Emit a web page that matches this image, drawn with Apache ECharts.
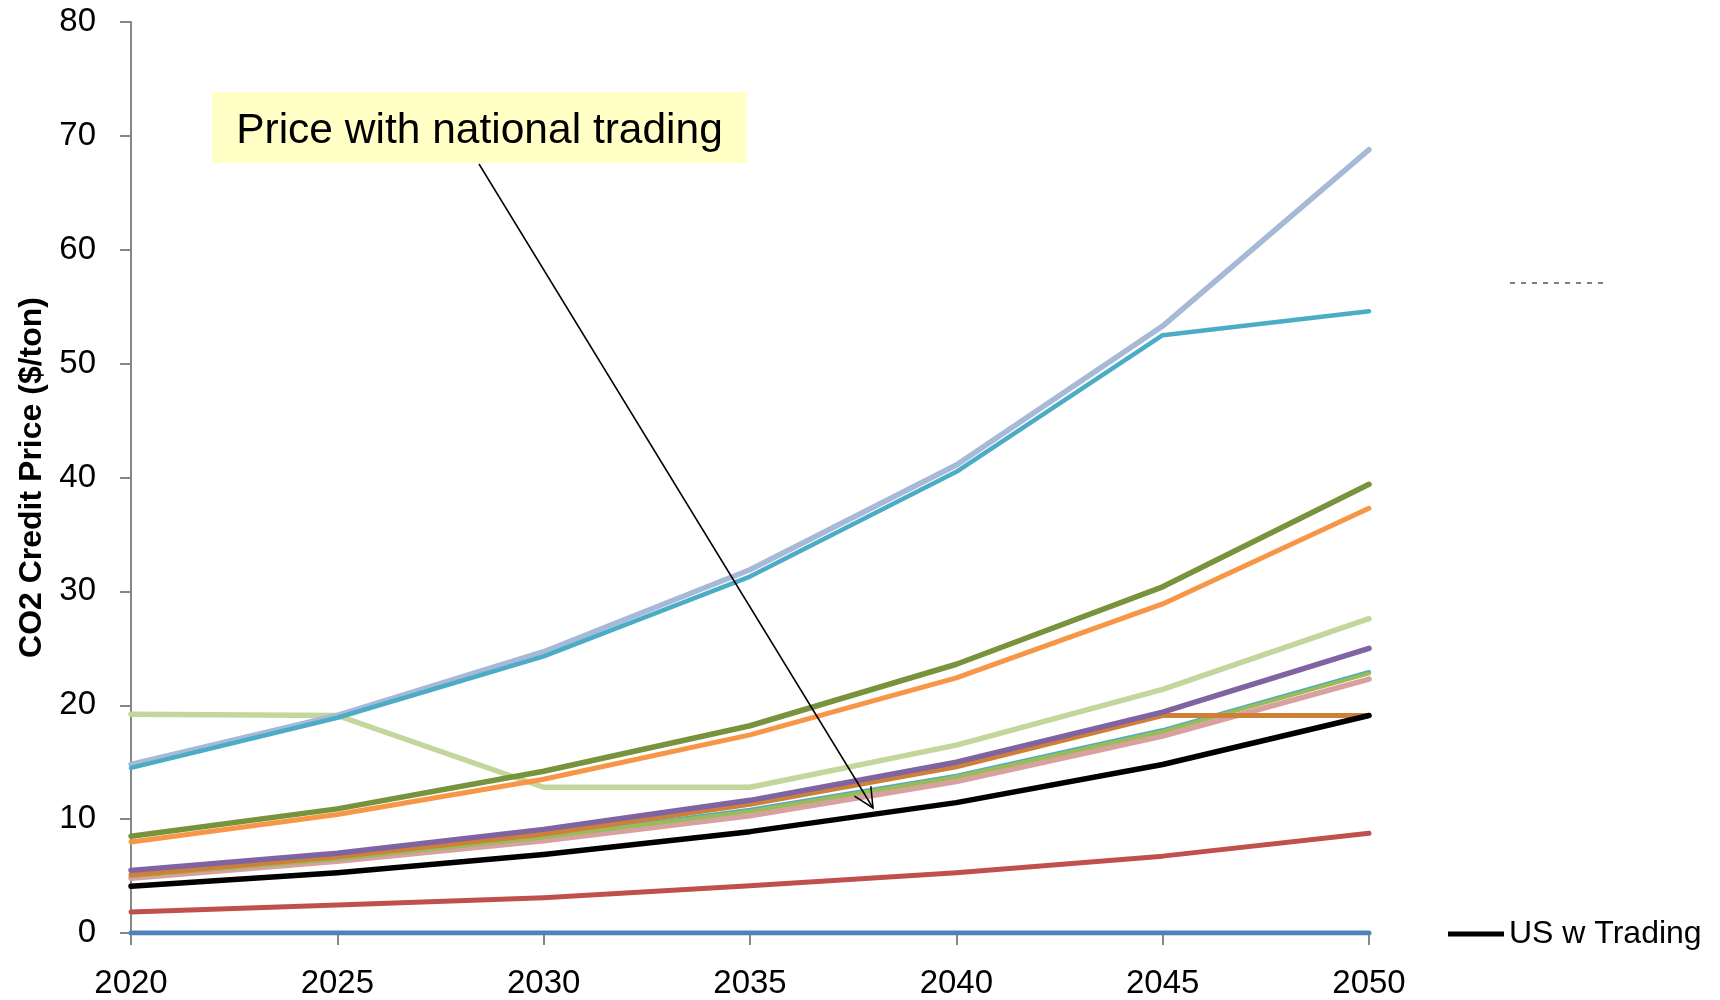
<!DOCTYPE html>
<html>
<head>
<meta charset="utf-8">
<script src="https://cdn.jsdelivr.net/npm/echarts@6/dist/echarts.min.js"></script>
<style>
html,body{margin:0;padding:0;background:#fff;}
#chart{width:1720px;height:1000px;}
</style>
</head>
<body>
<div id="chart"></div>
<script>
// ---- data ----
const years = ['2020','2025','2030','2035','2040','2045','2050'];
const yTicks = [0,10,20,30,40,50,60,70,80];
const seriesBlue      = [0, 0, 0, 0, 0, 0, 0];
const seriesRed       = [1.85, 2.45, 3.1, 4.15, 5.3, 6.75, 8.75];
const seriesPink      = [4.8, 6.3, 8.1, 10.3, 13.3, 17.3, 22.3];
const seriesTeal      = [5.05, 6.55, 8.45, 10.8, 13.8, 17.8, 22.9];
const seriesGreen     = [5.0, 6.5, 8.4, 10.7, 13.7, 17.7, 22.8];
const seriesBrown     = [5.1, 6.7, 8.7, 11.3, 14.6, 19.1, 19.1];
const seriesPurple    = [5.5, 7.0, 9.1, 11.65, 15.0, 19.4, 25.0];
const seriesSage      = [19.2, 19.1, 12.8, 12.8, 16.5, 21.4, 27.6];
const seriesOrange    = [8.0, 10.4, 13.5, 17.4, 22.4, 28.9, 37.3];
const seriesOlive     = [8.5, 10.9, 14.2, 18.2, 23.6, 30.4, 39.4];
const seriesAqua      = [14.5, 18.9, 24.3, 31.3, 40.5, 52.5, 54.6];
const seriesSteel     = [14.8, 19.1, 24.7, 31.9, 41.1, 53.3, 68.8];
const seriesUSTrading = [4.1, 5.3, 6.9, 8.9, 11.45, 14.8, 19.1];
const yAxisTitle = 'CO2 Credit Price ($/ton)';
const legendName = 'US w Trading';
const annotationText = 'Price with national trading';

const FONT = "'Liberation Sans', Arial, sans-serif";

function mk(name, data, color, width) {
  return {
    name: name, type: 'line', data: data, showSymbol: false, symbol: 'none',
    smooth: false, silent: true, animation: false,
    lineStyle: {color: color, width: width, cap: 'round', join: 'round'},
    itemStyle: {color: color}
  };
}

const chart = echarts.init(document.getElementById('chart'), null, {renderer: 'canvas'});

const series = [
  mk('s1', seriesBlue, '#4F81BD', 5),
  mk('s2', seriesRed, '#C0504D', 5),
  mk('s3', seriesPink, '#D9A0A0', 5.5),
  mk('s4', seriesTeal, '#4BACC6', 4.5),
  mk('s5', seriesGreen, '#9BBB59', 4),
  mk('s6', seriesBrown, '#CF8038', 5),
  mk('s7', seriesPurple, '#8064A2', 5.5),
  mk('s8', seriesSage, '#C3D69B', 5.5),
  mk('s9', seriesOrange, '#F79646', 5),
  mk('s10', seriesOlive, '#77933C', 5.5),
  mk('s11', seriesSteel, '#A6B9D6', 5.5),
  mk('s12', seriesAqua, '#4BACC6', 4.5),
  mk(legendName, seriesUSTrading, '#000000', 5.5)
];

// arrow geometry (annotation layout)
const ax0 = 479, ay0 = 164, ax1 = 873, ay1 = 808;
const dx = ax1 - ax0, dy = ay1 - ay0, L = Math.sqrt(dx*dx + dy*dy);
const ux = dx / L, uy = dy / L;
const headLen = 22, ang = 0.45;
function rot(x, y, a) { return [x*Math.cos(a) - y*Math.sin(a), x*Math.sin(a) + y*Math.cos(a)]; }
const w1 = rot(-ux, -uy, ang), w2 = rot(-ux, -uy, -ang);

chart.setOption({
  backgroundColor: '#ffffff',
  animation: false,
  grid: {left: 131, right: 351, top: 22, bottom: 67, containLabel: false},
  legend: {
    data: [legendName], left: 1443, top: 913, icon: 'rect',
    itemWidth: 56, itemHeight: 5, itemGap: 0,
    textStyle: {fontFamily: FONT, fontSize: 32, color: '#000'}
  },
  xAxis: {
    type: 'category', data: years, boundaryGap: false,
    axisLine: {show: true, lineStyle: {color: '#868686', width: 2}},
    axisTick: {show: true, alignWithLabel: true, length: 12, inside: false, lineStyle: {color: '#868686', width: 2}},
    axisLabel: {fontFamily: FONT, fontSize: 33, color: '#000', margin: 34, interval: 0},
    splitLine: {show: false}
  },
  yAxis: {
    type: 'value', min: 0, max: 80, interval: 10,
    name: yAxisTitle, nameLocation: 'middle', nameRotate: 90, nameGap: 82,
    nameTextStyle: {fontFamily: FONT, fontSize: 32, fontWeight: 'bold', color: '#000'},
    axisLine: {show: true, lineStyle: {color: '#868686', width: 2}},
    axisTick: {show: true, length: 11, lineStyle: {color: '#868686', width: 2}},
    axisLabel: {fontFamily: FONT, fontSize: 33, color: '#000', margin: 35,
      formatter: function (v) { return yTicks.indexOf(v) >= 0 ? String(v) : ''; }},
    splitLine: {show: false}
  },
  series: series,
  graphic: [
    {type: 'rect', shape: {x: 212, y: 92, width: 535, height: 71}, style: {fill: '#FFFFC6'}, z: 10},
    {type: 'text', x: 479.5, y: 131, style: {text: annotationText, fontFamily: FONT, fontSize: 42.5, fill: '#000', align: 'center', verticalAlign: 'middle'}, z: 11},
    {type: 'line', shape: {x1: ax0, y1: ay0, x2: ax1, y2: ay1}, style: {stroke: '#000', lineWidth: 1.5}, z: 12},
    {type: 'polyline', shape: {points: [[ax1 + w1[0]*headLen, ay1 + w1[1]*headLen], [ax1, ay1], [ax1 + w2[0]*headLen, ay1 + w2[1]*headLen]]}, style: {stroke: '#000', lineWidth: 1.5, fill: null}, z: 12},
    {type: 'line', shape: {x1: 1510, y1: 283, x2: 1608, y2: 283}, style: {stroke: '#000', lineWidth: 1.2, lineDash: [5, 6]}, z: 5}
  ]
});
</script>
</body>
</html>
